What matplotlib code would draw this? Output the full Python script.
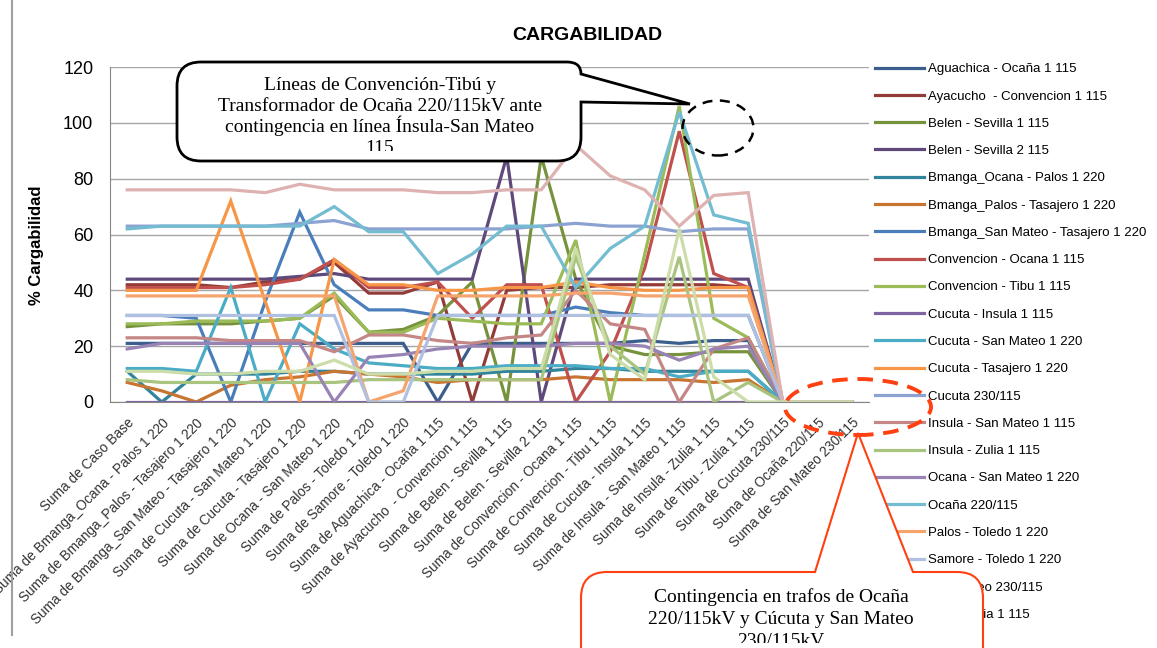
import matplotlib
matplotlib.use('Agg')
import matplotlib.pyplot as plt
from matplotlib.path import Path
from matplotlib.patches import PathPatch, Ellipse
from matplotlib.lines import Line2D
from matplotlib.transforms import Bbox

# categorias (contingencias)
categorias = [
    "Suma de Caso Base",
    "Suma de Bmanga_Ocana - Palos 1 220",
    "Suma de Bmanga_Palos - Tasajero 1 220",
    "Suma de Bmanga_San Mateo - Tasajero 1 220",
    "Suma de Cucuta - San Mateo 1 220",
    "Suma de Cucuta - Tasajero 1 220",
    "Suma de Ocana - San Mateo 1 220",
    "Suma de Palos - Toledo 1 220",
    "Suma de Samore - Toledo 1 220",
    "Suma de Aguachica - Ocaña 1 115",
    "Suma de Ayacucho  - Convencion 1 115",
    "Suma de Belen - Sevilla 1 115",
    "Suma de Belen - Sevilla 2 115",
    "Suma de Convencion - Ocana 1 115",
    "Suma de Convencion - Tibu 1 115",
    "Suma de Cucuta - Insula 1 115",
    "Suma de Insula - San Mateo 1 115",
    "Suma de Insula - Zulia 1 115",
    "Suma de Tibu - Zulia 1 115",
    "Suma de Cucuta 230/115",
    "Suma de Ocaña 220/115",
    "Suma de San Mateo 230/115",
]

# cargabilidad (%) por elemento
aguachica_ocana = [21, 21, 21, 21, 21, 21, 21, 21, 21, 0, 21, 21, 21, 21, 21, 22, 21, 22, 22, 0, 0, 0]
ayacucho_convencion = [42, 42, 42, 41, 43, 44, 50, 39, 39, 43, 0, 40, 41, 41, 42, 42, 42, 42, 41, 0, 0, 0]
belen_sevilla_1 = [27, 28, 28, 28, 29, 30, 38, 25, 26, 31, 43, 0, 88, 44, 20, 17, 17, 18, 18, 0, 0, 0]
belen_sevilla_2 = [44, 44, 44, 44, 44, 45, 46, 44, 44, 44, 44, 88, 0, 44, 44, 44, 44, 44, 44, 0, 0, 0]
bmanga_ocana_palos = [11, 0, 10, 10, 10, 11, 11, 10, 10, 10, 10, 11, 11, 12, 12, 11, 11, 11, 11, 0, 0, 0]
bmanga_palos_tasajero = [7, 4, 0, 6, 8, 9, 11, 10, 9, 7, 8, 8, 8, 9, 8, 8, 8, 7, 8, 0, 0, 0]
bmanga_sanmateo_tasajero = [31, 31, 30, 0, 36, 68, 42, 33, 33, 31, 31, 31, 31, 34, 32, 31, 31, 31, 31, 0, 0, 0]
convencion_ocana = [41, 41, 41, 41, 42, 44, 51, 41, 41, 43, 30, 42, 42, 0, 18, 48, 97, 46, 41, 0, 0, 0]
convencion_tibu = [28, 28, 29, 29, 29, 30, 39, 25, 25, 30, 29, 28, 28, 58, 0, 53, 106, 30, 23, 0, 0, 0]
cucuta_insula = [0, 0, 0, 0, 0, 0, 0, 0, 0, 0, 0, 0, 0, 0, 0, 0, 0, 0, 0, 0, 0, 0]
cucuta_sanmateo = [12, 12, 11, 41, 0, 28, 19, 14, 13, 12, 12, 13, 13, 13, 12, 12, 9, 11, 11, 0, 0, 0]
cucuta_tasajero = [40, 40, 40, 72, 36, 0, 51, 42, 42, 40, 40, 41, 41, 43, 41, 40, 40, 41, 41, 0, 0, 0]
cucuta_230 = [63, 63, 63, 63, 63, 64, 65, 62, 62, 62, 62, 62, 63, 64, 63, 63, 61, 62, 62, 0, 0, 0]
insula_sanmateo = [23, 23, 23, 22, 22, 22, 18, 24, 24, 22, 21, 23, 24, 40, 28, 26, 0, 19, 23, 0, 0, 0]
insula_zulia = [8, 7, 7, 7, 7, 7, 7, 8, 8, 8, 8, 8, 8, 52, 20, 10, 52, 0, 7, 0, 0, 0]
ocana_sanmateo = [19, 21, 21, 21, 21, 21, 0, 16, 17, 19, 20, 20, 20, 21, 21, 20, 15, 19, 20, 0, 0, 0]
ocana_220 = [62, 63, 63, 63, 63, 63, 70, 61, 61, 46, 53, 63, 63, 41, 55, 63, 104, 67, 64, 0, 0, 0]
palos_toledo = [38, 38, 38, 38, 38, 38, 38, 0, 4, 38, 38, 38, 38, 39, 39, 38, 38, 38, 38, 0, 0, 0]
samore_toledo = [31, 31, 31, 31, 31, 31, 31, 0, 0, 31, 31, 31, 31, 31, 31, 31, 31, 31, 31, 0, 0, 0]
sanmateo_230 = [76, 76, 76, 76, 75, 78, 76, 76, 76, 75, 75, 76, 76, 92, 81, 76, 63, 74, 75, 0, 0, 0]
tibu_zulia = [11, 11, 10, 10, 11, 11, 15, 10, 10, 11, 11, 12, 12, 55, 17, 8, 62, 9, 0, 0, 0, 0]

nombres = [
    "Aguachica - Ocaña 1 115", "Ayacucho  - Convencion 1 115", "Belen - Sevilla 1 115",
    "Belen - Sevilla 2 115", "Bmanga_Ocana - Palos 1 220", "Bmanga_Palos - Tasajero 1 220",
    "Bmanga_San Mateo - Tasajero 1 220", "Convencion - Ocana 1 115", "Convencion - Tibu 1 115",
    "Cucuta - Insula 1 115", "Cucuta - San Mateo 1 220", "Cucuta - Tasajero 1 220",
    "Cucuta 230/115", "Insula - San Mateo 1 115", "Insula - Zulia 1 115",
    "Ocana - San Mateo 1 220", "Ocaña 220/115", "Palos - Toledo 1 220",
    "Samore - Toledo 1 220", "San Mateo 230/115", "Tibu - Zulia 1 115",
]
series = [
    aguachica_ocana, ayacucho_convencion, belen_sevilla_1, belen_sevilla_2,
    bmanga_ocana_palos, bmanga_palos_tasajero, bmanga_sanmateo_tasajero,
    convencion_ocana, convencion_tibu, cucuta_insula, cucuta_sanmateo,
    cucuta_tasajero, cucuta_230, insula_sanmateo, insula_zulia, ocana_sanmateo,
    ocana_220, palos_toledo, samore_toledo, sanmateo_230, tibu_zulia,
]
colores = [
    '#3B5E8C', '#933B38', '#76923C', '#5F497A', '#31849B', '#C87531',
    '#4A7EBB', '#C0504D', '#9BBB59', '#8064A2', '#4BACC6', '#F79646',
    '#8CA2D0', '#C48786', '#A9C47F', '#9983B5', '#73BCD1', '#F5A46E',
    '#AFC0E0', '#DDB2B1', '#CCDDAA',
]

W, H = 1157, 648


def px(x, y):
    # pixel de la imagen -> fraccion de figura
    return (x / W, 1 - y / H)


fig = plt.figure(figsize=(W / 100, H / 100), dpi=100)
ax = fig.add_axes([110 / W, 1 - 402 / H, (869 - 110) / W, (402 - 67) / H])

x = list(range(len(categorias)))
for nombre, valores, color in zip(nombres, series, colores):
    ax.plot(x, valores, color=color, lw=2.3, label=nombre, solid_joinstyle='miter')

ax.set_xlim(-0.5, len(categorias) - 0.5)
ax.set_ylim(0, 120)
ax.set_yticks(range(0, 121, 20))
ax.yaxis.grid(True, color='#A6A6A6', lw=1)
ax.set_axisbelow(True)
for s in ['top', 'right']:
    ax.spines[s].set_visible(False)
ax.spines['left'].set_color('#868686')
ax.spines['bottom'].set_color('#868686')
ax.tick_params(axis='y', labelsize=13, length=0, pad=12)
ax.tick_params(axis='x', length=0, pad=10)
ax.set_xticks(x)
ax.set_xticklabels(categorias, rotation=45, ha='right', rotation_mode='anchor',
                   fontsize=9.8, family='Liberation Sans', color='#333333')
for t in ax.get_yticklabels():
    t.set_family('Liberation Sans')

fig.text(*px(587, 35), "CARGABILIDAD", ha='center', va='center', fontsize=14,
         fontweight='bold', family='Liberation Sans')
fig.text(*px(36, 245), "% Cargabilidad", ha='center', va='center', rotation=90,
         fontsize=12, fontweight='bold', family='Liberation Sans')

handles, labels = ax.get_legend_handles_labels()
fig.legend(handles, labels, loc='upper left', bbox_to_anchor=px(875, 63),
           frameon=False, prop={'family': 'Liberation Sans', 'size': 9.5},
           handlelength=3.7, handletextpad=0.35, labelspacing=1.14,
           borderaxespad=0, borderpad=0)

# borde de pagina
fig.add_artist(Line2D([12 / W, 12 / W], [1 - 635 / H, 1.0], transform=fig.transFigure,
                      color='#A0A0A0', lw=1.5))


def dibujar_path(puntos, codigos, ec, lw):
    verts = [px(a, b) for a, b in puntos]
    p = PathPatch(Path(verts, codigos), transform=fig.transFigure, fc='white',
                  ec=ec, lw=lw, zorder=10)
    fig.add_artist(p)


M, L, C, Z = Path.MOVETO, Path.LINETO, Path.CURVE3, Path.CLOSEPOLY

# globo negro
x0, y0, x1, y1, r = 177, 62, 581, 161, 24
pts = [(x0 + r, y0), (x1 - 14, y0), (x1, y0), (x1, y0 + 12), (690, 104), (x1, 102),
       (x1, y1 - r), (x1, y1), (x1 - r, y1), (x0 + r, y1), (x0, y1), (x0, y1 - r),
       (x0, y0 + r), (x0, y0), (x0 + r, y0), (x0 + r, y0)]
cods = [M, L, C, C, L, L, L, C, C, L, C, C, L, C, C, Z]
dibujar_path(pts, cods, 'black', 2)

lineas1 = ["Líneas de Convención-Tibú y", "Transformador de Ocaña 220/115kV ante",
           "contingencia en línea Ínsula-San Mateo", "115"]
for i, txt in enumerate(lineas1):
    t = fig.text(*px(380, 90 + 21 * i), txt, ha='center', va='baseline', fontsize=14,
                 family='Liberation Serif', zorder=11)
    if i == 3:
        t.set_clip_box(Bbox.from_extents(0, H - 151, W, H))
        t.set_clip_on(True)

fig.add_artist(Ellipse(px(718, 128), 71 / W, 55 / H, transform=fig.transFigure,
                       fill=False, ec='black', lw=1.8, ls=(0, (4, 3)), zorder=11))

# globo rojo
x0, y0, x1, y1, r = 581, 572, 983, 720, 26
pts = [(x0 + r, y0), (815, y0), (858, 433), (913, y0), (x1 - r, y0), (x1, y0),
       (x1, y0 + r), (x1, y1), (x0, y1), (x0, y0 + r), (x0, y0), (x0 + r, y0),
       (x0 + r, y0)]
cods = [M, L, L, L, L, C, C, L, L, L, C, C, Z]
dibujar_path(pts, cods, '#FF4010', 1.5)

lineas2 = ["Contingencia en trafos de Ocaña", "220/115kV y Cúcuta y San Mateo", "230/115kV"]
for i, txt in enumerate(lineas2):
    t = fig.text(*px(781, 602 + 22 * i), txt, ha='center', va='baseline', fontsize=14,
                 family='Liberation Serif', zorder=11)
    if i == 2:
        t.set_clip_box(Bbox.from_extents(0, H - 643, W, H))
        t.set_clip_on(True)

fig.add_artist(Ellipse(px(858, 407), 146 / W, 56 / H, transform=fig.transFigure,
                       fill=False, ec='#FF4010', lw=2.8, ls=(0, (4, 2.5)), zorder=11))

fig.savefig('out.png', dpi=100)
